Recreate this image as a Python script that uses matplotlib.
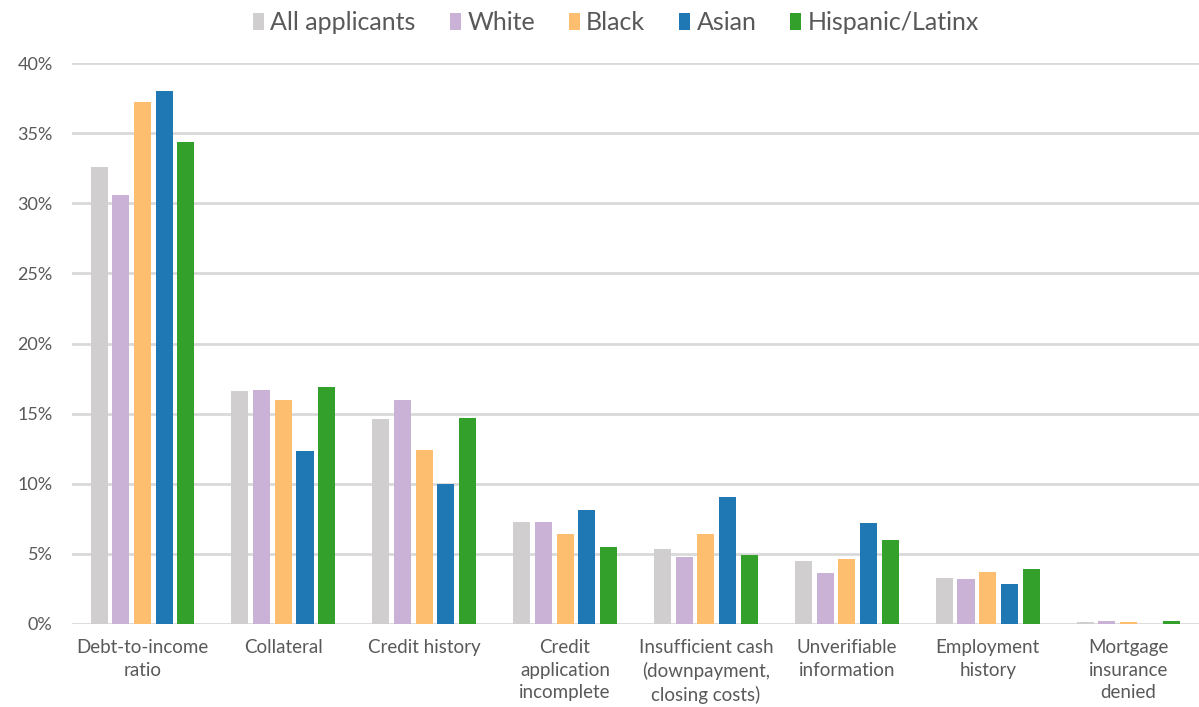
import matplotlib
matplotlib.use("Agg")
import matplotlib.pyplot as plt
import numpy as np
from matplotlib.ticker import FuncFormatter

plt.rcParams['font.family'] = ['Lato', 'DejaVu Sans']

categories = [
    "Debt-to-income\nratio",
    "Collateral",
    "Credit history",
    "Credit\napplication\nincomplete",
    "Insufficient cash\n(downpayment,\nclosing costs)",
    "Unverifiable\ninformation",
    "Employment\nhistory",
    "Mortgage\ninsurance\ndenied",
]

series_names = ["All applicants", "White", "Black", "Asian", "Hispanic/Latinx"]

all_applicants = [32.6, 16.6, 14.6, 7.25, 5.35, 4.5, 3.3, 0.16]
white = [30.6, 16.7, 16.0, 7.3, 4.75, 3.65, 3.2, 0.2]
black = [37.2, 16.0, 12.4, 6.4, 6.4, 4.6, 3.7, 0.15]
asian = [38.0, 12.3, 10.0, 8.1, 9.05, 7.2, 2.85, 0.0]
hispanic = [34.4, 16.9, 14.7, 5.5, 4.9, 6.0, 3.95, 0.22]

series_values = [all_applicants, white, black, asian, hispanic]
colors = ["#d0cece", "#cab2d6", "#fdbf6f", "#1f78b4", "#33a02c"]

text_color = "#595959"
grid_color = "#d9d9d9"

fig = plt.figure(figsize=(11.99, 7.07), dpi=100)
ax = fig.add_axes([72 / 1199, 1 - 624 / 707, (1199 - 72) / 1199, (624 - 63) / 707])

x = np.arange(len(categories))
pitch = 0.154
bar_w = 0.121
for i, (name, vals, col) in enumerate(zip(series_names, series_values, colors)):
    offs = (i - 2) * pitch
    ax.bar(x + offs, vals, width=bar_w, color=col, label=name, zorder=3)

ax.set_xlim(-0.5, len(categories) - 0.5)
ax.set_ylim(0, 40)
ax.set_yticks(np.arange(0, 41, 5))
ax.yaxis.set_major_formatter(FuncFormatter(lambda v, p: f"{int(v)}%"))
ax.grid(axis='y', color=grid_color, linewidth=2.0, zorder=0)
ax.set_axisbelow(True)
for s in ax.spines.values():
    s.set_visible(False)

ax.set_xticks(x)
ax.set_xticklabels(categories, fontsize=13.5, color=text_color, linespacing=1.4)
ax.tick_params(axis='x', length=0, pad=11)
ax.tick_params(axis='y', length=0, pad=14, labelsize=13, labelcolor=text_color)
for lab in ax.get_xticklabels():
    lab.set_verticalalignment('top')

leg = fig.legend(
    loc='center', bbox_to_anchor=(616 / 1199, 1 - 23 / 707), ncol=5,
    frameon=False, fontsize=18, handlelength=0.45, handleheight=0.65,
    handletextpad=0.25, columnspacing=1.35, borderaxespad=0,
)
for t in leg.get_texts():
    t.set_color(text_color)

fig.savefig("out.png", dpi=100)
